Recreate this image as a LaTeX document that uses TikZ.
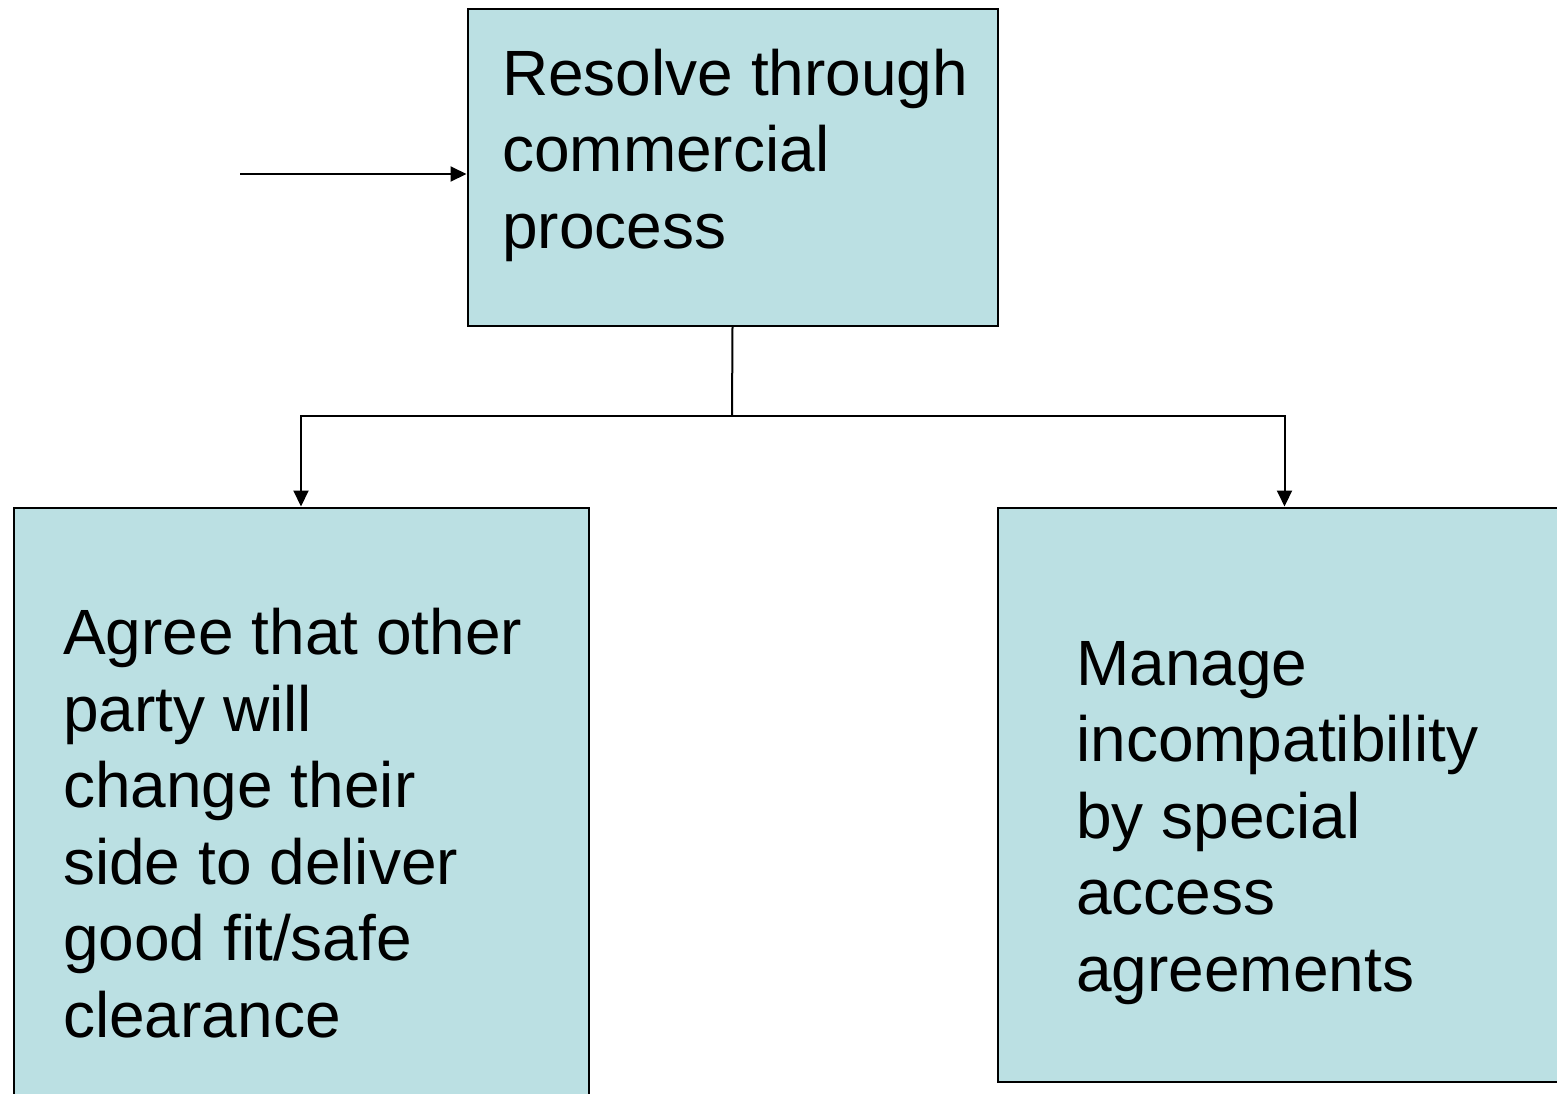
\documentclass[tikz,border=0pt]{standalone}
\usepackage{fontspec}
\setmainfont{Liberation Sans}
\usetikzlibrary{arrows.meta}
\definecolor{boxfill}{HTML}{BBE0E3}
\tikzset{
  box/.style={draw=black, line width=2pt, fill=boxfill, inner sep=0pt, anchor=north west},
  label/.style={anchor=base west, inner sep=0pt, align=left, font=\fontsize{64}{76.5}\selectfont},
  conn/.style={line width=2pt, draw=black},
  arr/.style={conn, -{Triangle[length=16pt,width=15pt]}}
}
\begin{document}
\begin{tikzpicture}[x=1pt,y=-1pt]
\useasboundingbox[fill=white] (0,0) rectangle (1557,1093);
\node[box, minimum width=530pt, minimum height=317pt] (top) at (466.5,7.5) {};
\node[box, minimum width=575pt, minimum height=660pt] (left) at (12.5,506.5) {};
\node[box, minimum width=574pt, minimum height=574pt] (right) at (996.5,506.5) {};
\node[label] (toptext) at (502,248) {Resolve through\\commercial\\process};
\node[label] (lefttext) at (63,1037) {Agree that other\\party will\\change their\\side to deliver\\good fit/safe\\clearance};
\node[label] (righttext) at (1076,991) {Manage\\incompatibility\\by special\\access\\agreements};
\coordinate (in) at (240,174);
\coordinate (j) at (732,416);
\draw[arr] (in) -- (in -| top.west);
\draw[conn] (top.south) -- (j);
\draw[arr] (j) -| (left.north);
\draw[arr] (j) -| (right.north);
\end{tikzpicture}
\end{document}
